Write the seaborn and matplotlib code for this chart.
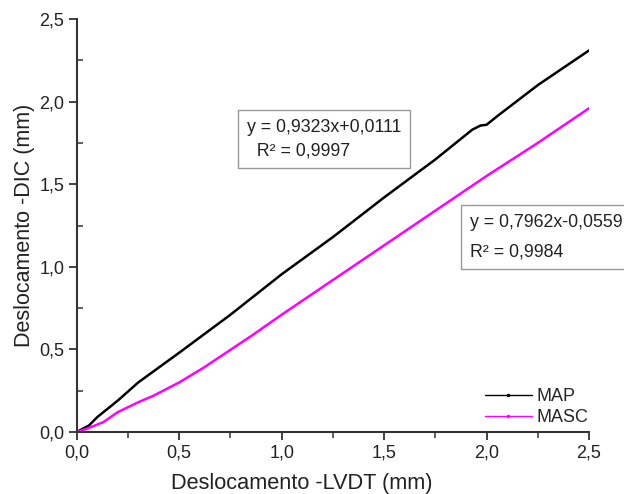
import seaborn as sns
import matplotlib.pyplot as plt
import pandas as pd
from matplotlib.lines import Line2D
from matplotlib.ticker import FuncFormatter, MultipleLocator

# Dados
lvdt_map = [0, 0.03, 0.06, 0.1, 0.15, 0.2, 0.3, 0.5, 0.75, 1.0, 1.25, 1.5, 1.75, 1.93, 1.97, 2.0, 2.05, 2.25, 2.5]
dic_map = [0, 0.02, 0.04, 0.09, 0.14, 0.19, 0.30, 0.48, 0.71, 0.955, 1.18, 1.42, 1.65, 1.83, 1.855, 1.86, 1.91, 2.10, 2.31]

lvdt_masc = [0, 0.05, 0.13, 0.2, 0.3, 0.375, 0.5, 0.62, 0.85, 1.0, 1.25, 1.5, 1.75, 2.0, 2.25, 2.5]
dic_masc = [0, 0.02, 0.06, 0.12, 0.18, 0.22, 0.30, 0.39, 0.58, 0.71, 0.92, 1.13, 1.34, 1.55, 1.75, 1.96]

eq_map = ['y = 0,9323x+0,0111', '  R² = 0,9997']
eq_masc = ['y = 0,7962x-0,0559', 'R² = 0,9984']

df = pd.concat([
    pd.DataFrame({'lvdt': lvdt_map, 'dic': dic_map, 'serie': 'MAP'}),
    pd.DataFrame({'lvdt': lvdt_masc, 'dic': dic_masc, 'serie': 'MASC'}),
])

sns.set_style('ticks')
plt.rcParams['font.family'] = ['Liberation Sans', 'DejaVu Sans']

cores = {'MAP': '#000000', 'MASC': '#ff00ff'}

fig = plt.figure(figsize=(6.24, 4.94), dpi=100)
ax = fig.add_axes([0.123, 0.1255, 0.821, 0.836])

sns.lineplot(data=df, x='lvdt', y='dic', hue='serie', palette=cores, ax=ax,
             linewidth=1.8, legend=False, sort=False, estimator=None)

ax.set_xlim(0, 2.5)
ax.set_ylim(0, 2.5)
ax.xaxis.set_major_locator(MultipleLocator(0.5))
ax.yaxis.set_major_locator(MultipleLocator(0.5))
ax.xaxis.set_minor_locator(MultipleLocator(0.25))
ax.yaxis.set_minor_locator(MultipleLocator(0.25))
virgula = FuncFormatter(lambda v, p: f'{v:.1f}'.replace('.', ','))
ax.xaxis.set_major_formatter(virgula)
ax.yaxis.set_major_formatter(virgula)

for lado in ['top', 'right']:
    ax.spines[lado].set_visible(False)
for lado in ['left', 'bottom']:
    ax.spines[lado].set_linewidth(1.5)
    ax.spines[lado].set_color('#333333')
    ax.spines[lado].set_clip_on(False)

ax.tick_params(which='major', direction='out', length=6, width=1.3, color='#333333',
               labelsize=13, labelcolor='#222222', pad=3)
ax.tick_params(axis='y', which='minor', direction='in', length=4, width=1.1, color='#333333')
ax.tick_params(axis='x', which='minor', direction='out', length=4, width=1.1, color='#333333')

ax.set_xlabel('Deslocamento -LVDT (mm)', fontsize=15.7, color='#222222')
ax.set_ylabel('Deslocamento -DIC (mm)', fontsize=15.5, color='#222222', labelpad=3)
ax.xaxis.set_label_coords(0.44, -0.1)

caixa = dict(boxstyle='square,pad=0.5', facecolor='white', edgecolor='#999999', linewidth=1)
ax.text(0.83, 1.775, '\n'.join(eq_map), fontsize=12.8, color='#222222', linespacing=1.5,
        va='center', ha='left', bbox=caixa)
ax.text(1.92, 1.18, '\n'.join(eq_masc), fontsize=12.8, color='#222222', linespacing=2.0,
        va='center', ha='left', bbox=caixa, clip_on=False)

alcas = [Line2D([], [], color=cores[s], lw=1, marker='.', markersize=3) for s in cores]
ax.legend(alcas, list(cores), loc='lower right', bbox_to_anchor=(1.03, -0.025), frameon=False,
          fontsize=13, handlelength=2.6, handletextpad=0.25, labelspacing=0.2)

plt.savefig('out.png', dpi=100)
